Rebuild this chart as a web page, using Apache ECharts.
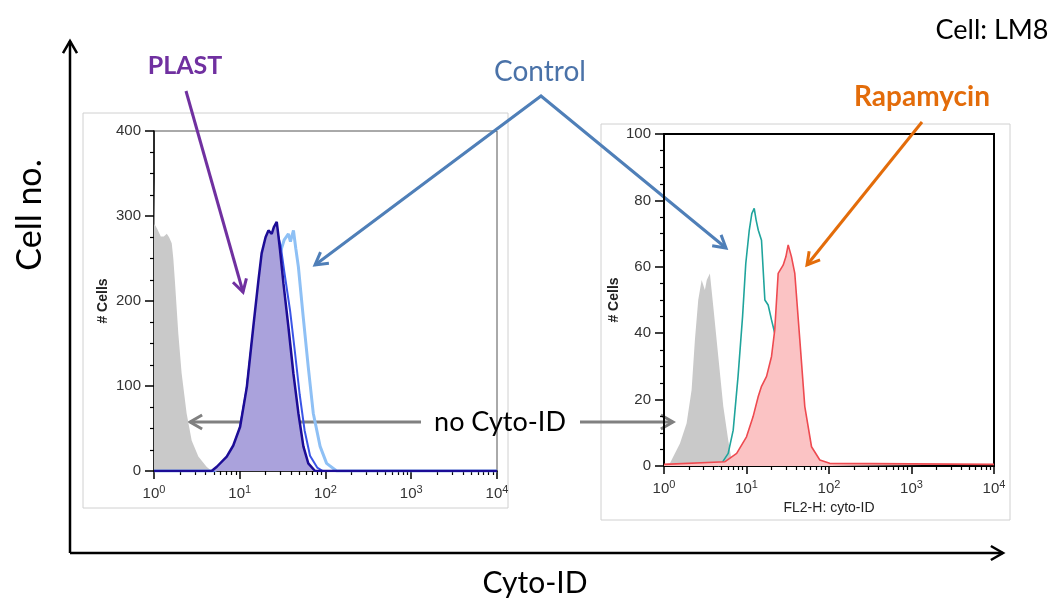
<!DOCTYPE html>
<html>
<head>
<meta charset="utf-8">
<script src="https://cdn.jsdelivr.net/npm/echarts@6/dist/echarts.min.js"></script>
<style>
  html, body { margin: 0; padding: 0; background: #fff; }
  #main { width: 1055px; height: 602px; }
</style>
</head>
<body>
<div id="main"></div>
<script>
/* 左图: PLAST / Control / 未染色 */
var noStainL = [[1,345],[1.02,290],[1.1,284],[1.2,276],[1.3,276],[1.41,279],[1.5,275],[1.61,268],[1.68,250],[1.76,221],[1.92,162],[2.1,115],[2.4,68],[2.75,36],[3.29,17],[4.1,5],[4.7,0]];
var ctrlL = [[1,0],[5,0],[6,4],[7.5,14],[9,30],[10.5,55],[12,90],[14,150],[17,215],[21,255],[25,262],[29.5,256],[33,272],[36.9,279],[39,270],[42.3,283],[45,262],[48.3,240],[55,181],[63,122],[72,68],[86.5,29],[103,9],[135,0],[10000,0]];
var midL = [[1,0],[5,0],[6.5,8],[8,22],[10,50],[12,95],[14.4,165],[17,225],[20,262],[24,275],[27,283],[30,265],[33,235],[38.6,189],[44,140],[50,90],[57,48],[66,18],[80,4],[93,0],[10000,0]];
var plastL = [[1,0],[4.7,0],[5.4,5],[7.05,17],[8.4,30],[10.1,52],[12.1,99],[14.4,170],[16.5,224],[18,256],[20,275],[21.6,283],[23.6,279],[25,287],[27,293],[28,280],[29.5,260],[32.3,221],[36.9,170],[42.2,115],[48.3,68],[55.2,29],[63,9],[75.6,0],[10000,0]];

/* 右图: Control / Rapamycin / 未染色 */
var noStainR = [[1,0.5],[1.18,0.8],[1.56,6.8],[1.88,12.9],[2.16,22.9],[2.37,38],[2.6,50],[2.86,56],[3.13,53],[3.3,56],[3.6,58],[3.96,48],[4.55,33],[5.23,18],[6,7.8],[6.6,1.8],[7.2,0]];
var ctrlR = [[4.5,0],[5,0.8],[6,3.8],[6.9,10.8],[7.9,27],[8.96,45],[9.8,61],[10.8,71],[11.6,76],[12.4,77.6],[13.1,74],[13.9,71],[15.2,68],[16.7,50],[18.3,48.5],[20.1,44],[22,40],[25,30],[30,15],[40,5],[60,1],[80,0]];
var rapaR = [[1,0.5],[5.5,1.3],[7.6,3.8],[10,8.8],[12,14.8],[13.9,21],[15.2,24],[17.5,27],[20.1,33],[22,41],[24.2,58],[27.8,60.5],[30,63],[32,66.6],[35.1,63],[38.5,58],[44.3,38],[50.9,17.9],[61.4,5.8],[77.4,1.8],[102,0.8],[10000,0.5]];

var minorTicks = [2,3,4,5,6,7,8,9,20,30,40,50,60,70,80,90,200,300,400,500,600,700,800,900,2000,3000,4000,5000,6000,7000,8000,9000];

var labelFont = 'Liberation Sans';
var titleFont = 'Lato';

function arrowGroup(pts, color, width, heads) {
  var els = [{
    type: 'polyline',
    shape: { points: pts },
    style: { stroke: color, lineWidth: width, fill: null, lineJoin: 'miter' }
  }];
  heads.forEach(function (h) {
    var tip = h === 'end' ? pts[pts.length - 1] : pts[0];
    var from = h === 'end' ? pts[pts.length - 2] : pts[1];
    var dx = tip[0] - from[0], dy = tip[1] - from[1];
    var len = Math.sqrt(dx * dx + dy * dy);
    var ux = dx / len, uy = dy / len;
    var s = 14, a = Math.PI / 6;
    var c = Math.cos(a), sn = Math.sin(a);
    var p1 = [tip[0] - s * (ux * c - uy * sn), tip[1] - s * (uy * c + ux * sn)];
    var p2 = [tip[0] - s * (ux * c + uy * sn), tip[1] - s * (uy * c - ux * sn)];
    els.push({
      type: 'polyline',
      shape: { points: [p1, tip, p2] },
      style: { stroke: color, lineWidth: width, fill: null }
    });
  });
  return { type: 'group', z: 100, children: els };
}

function txt(x, y, text, size, color, weight, rot) {
  return {
    type: 'text', x: x, y: y, rotation: rot || 0, z: 100,
    style: {
      text: text, fontSize: size, fill: color, fontWeight: weight || 'normal',
      fontFamily: titleFont, align: 'center', verticalAlign: 'middle'
    }
  };
}

function xMain(gridIndex, name) {
  return {
    type: 'log', logBase: 10, min: 1, max: 10000, gridIndex: gridIndex, splitNumber: 4,
    name: name || '', nameLocation: 'middle', nameGap: 35,
    nameTextStyle: { fontSize: 14, color: '#222', fontFamily: labelFont },
    axisLine: { lineStyle: { color: '#000', width: gridIndex === 1 ? 2 : 1.5 } },
    axisTick: { length: 8, lineStyle: { color: '#000', width: 1.5 } },
    axisLabel: {
      margin: 13,
      formatter: function (v) {
        return '{b|10}{s|' + Math.round(Math.log10(v)) + '}';
      },
      rich: {
        b: { fontSize: 15, color: '#333', fontFamily: labelFont, lineHeight: 20 },
        s: { fontSize: 11, color: '#333', fontFamily: labelFont, verticalAlign: 'top' }
      }
    },
    splitLine: { show: false }
  };
}

function xMinor(gridIndex) {
  return {
    type: 'log', logBase: 10, min: 1, max: 10000, gridIndex: gridIndex, position: 'bottom',
    axisLine: { show: false },
    axisTick: { length: 4, customValues: minorTicks, lineStyle: { color: '#000', width: 1.2 } },
    axisLabel: { show: false },
    splitLine: { show: false }
  };
}

function yAxis(gridIndex, max, interval) {
  return {
    type: 'value', gridIndex: gridIndex, min: 0, max: max, interval: interval,
    name: '# Cells', nameLocation: 'middle', nameGap: gridIndex === 0 ? 44 : 43,
    nameTextStyle: { fontSize: 14, fontWeight: 'bold', color: '#222', fontFamily: labelFont },
    axisLine: { show: true, lineStyle: { color: '#000', width: gridIndex === 1 ? 2 : 1.5 } },
    axisTick: { show: true, length: 9, lineStyle: { color: '#000', width: 1.5 } },
    minorTick: { show: true, splitNumber: 4, length: 4, lineStyle: { color: '#000', width: 1.2 } },
    axisLabel: { margin: 13, fontSize: 15, color: '#333', fontFamily: labelFont },
    splitLine: { show: false }
  };
}

function lineSeries(x, y, data, color, width, fill, z) {
  var s = {
    type: 'line', xAxisIndex: x, yAxisIndex: y, data: data,
    showSymbol: false, symbol: 'none', smooth: false, z: z, silent: true,
    lineStyle: { color: color, width: width }
  };
  if (fill) s.areaStyle = { color: fill, opacity: 1 };
  if (width === 0) s.lineStyle = { width: 0, opacity: 0 };
  return s;
}

var myChart = echarts.init(document.getElementById('main'));

var option = {
  backgroundColor: '#fff',
  animation: false,
  grid: [
    { left: 154, top: 131, right: 558, bottom: 131, show: true, borderColor: '#555', borderWidth: 1 },
    { left: 664, top: 134, right: 61, bottom: 136, show: true, borderColor: '#000', borderWidth: 2 }
  ],
  xAxis: [xMain(0), xMinor(0), xMain(1, 'FL2-H: cyto-ID'), xMinor(1)],
  yAxis: [yAxis(0, 400, 100), yAxis(1, 100, 20)],
  series: [
    lineSeries(0, 0, noStainL, '#c9c9c9', 0, '#c9c9c9', 2),
    lineSeries(0, 0, ctrlL, '#8ec0f5', 3, null, 3),
    lineSeries(0, 0, midL, '#3a55e6', 2, null, 4),
    lineSeries(0, 0, plastL, '#1c0c96', 2.5, '#aaa2dc', 5),
    lineSeries(2, 1, noStainR, '#c9c9c9', 0, '#c9c9c9', 2),
    lineSeries(2, 1, ctrlR, '#1fa49c', 1.6, null, 3),
    lineSeries(2, 1, rapaR, '#ee4a50', 1.6, '#fbc3c4', 4)
  ],
  graphic: [
    /* 面板外框 */
    { type: 'rect', z: -1, shape: { x: 83, y: 113, width: 425, height: 395 }, style: { stroke: '#d0d0d0', fill: null, lineWidth: 1 } },
    { type: 'rect', z: -1, shape: { x: 601, y: 124, width: 409, height: 396 }, style: { stroke: '#d0d0d0', fill: null, lineWidth: 1 } },
    /* 大坐标轴 */
    arrowGroup([[70, 553], [70, 41]], '#000', 2.5, ['end']),
    arrowGroup([[70, 553], [1003, 553]], '#000', 2.5, ['end']),
    txt(30, 215, 'Cell no.', 34, '#000', 'normal', Math.PI / 2),
    txt(535, 583, 'Cyto-ID', 30, '#000'),
    txt(992, 30, 'Cell: LM8', 27, '#000'),
    /* 标注 */
    txt(185, 66, 'PLAST', 25, '#7030a0', 'bold'),
    arrowGroup([[186, 91], [243, 292]], '#7030a0', 3, ['end']),
    txt(540, 72, 'Control', 28, '#4a72a8'),
    arrowGroup([[315, 265], [541, 96], [726, 248]], '#4f7fb8', 3, ['start', 'end']),
    txt(922, 97, 'Rapamycin', 28, '#e36c0a', 'bold'),
    arrowGroup([[922, 122], [807, 265]], '#e36c0a', 3, ['end']),
    txt(500, 422, 'no Cyto-ID', 27, '#000'),
    arrowGroup([[421, 422], [190, 422]], '#808080', 3, ['end']),
    arrowGroup([[580, 422], [673, 422]], '#808080', 3, ['end'])
  ]
};
myChart.setOption(option);
</script>
</body>
</html>
